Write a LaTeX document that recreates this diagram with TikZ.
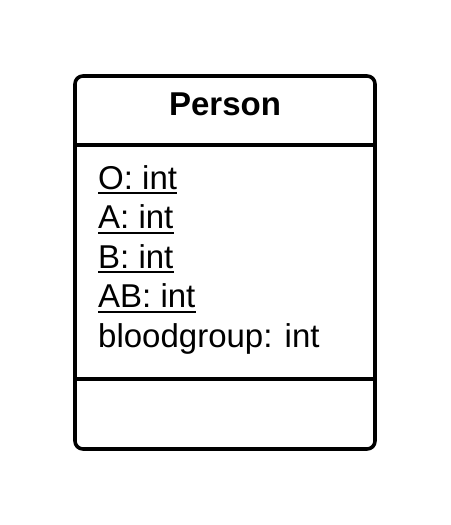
\documentclass[tikz,border=0pt]{standalone}
\usepackage{fontspec}
\setmainfont{Liberation Sans}
\begin{document}
\begin{tikzpicture}[x=1pt,y=1pt,
  frame/.style={line width=3.6pt},
  attr/.style={anchor=base west,inner sep=0pt,font=\fontsize{33}{40}\selectfont},
  uline/.style={line width=2pt}]
\useasboundingbox (0,0) rectangle (450,525);
\draw[frame,rounded corners=8pt] (75,76) rectangle (375,449);
\coordinate (h1l) at (75,380); \coordinate (h1r) at (375,380);
\coordinate (h2l) at (75,146); \coordinate (h2r) at (375,146);
\draw[frame] (h1l) -- (h1r);
\draw[frame] (h2l) -- (h2r);
\node[anchor=base,inner sep=0pt,font=\fontsize{33}{40}\selectfont\bfseries] (title) at (225,409) {Person};
\node[attr] (o) at (98,335.5) {O: int};
\node[attr] (a) at (98,296) {A: int};
\node[attr] (b) at (98,256.5) {B: int};
\node[attr] (ab) at (98,217) {AB: int};
\node[attr] (bg) at (98,177.5) {bloodgroup: int};
\foreach \n in {o,a,b,ab}{
  \draw[uline] ([yshift=-4pt]\n.base west) -- ([yshift=-4pt]\n.base east);
}
\end{tikzpicture}
\end{document}
